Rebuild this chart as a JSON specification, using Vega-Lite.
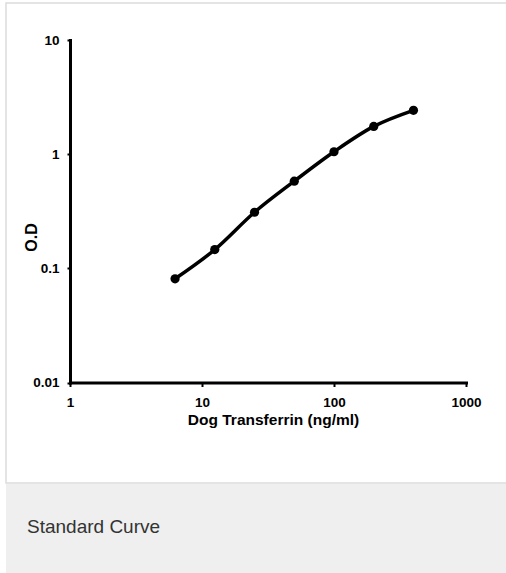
{
  "$schema": "https://vega.github.io/schema/vega-lite/v6.json",
  "background": "white",
  "padding": {"left": 5, "top": 2, "right": 0, "bottom": 1},
  "spacing": 0,
  "config": {"concat": {"spacing": 0}, "font": "Liberation Sans"},
  "vconcat": [
    {
      "width": 501,
      "height": 480,
      "view": {"stroke": "#dcdcdc", "strokeWidth": 1.5, "fill": "white"},
      "data": {
        "values": [
          {"conc": 6.25, "od": 0.081},
          {"conc": 12.5, "od": 0.146},
          {"conc": 25, "od": 0.31},
          {"conc": 50, "od": 0.58},
          {"conc": 100, "od": 1.05},
          {"conc": 200, "od": 1.75},
          {"conc": 400, "od": 2.42}
        ]
      },
      "encoding": {
        "x": {
          "field": "conc",
          "type": "quantitative",
          "scale": {"type": "log", "domain": [1, 1000], "range": [64, 460], "nice": false},
          "axis": {
            "title": "Dog Transferrin (ng/ml)",
            "values": [1, 10, 100, 1000],
            "format": "~g",
            "offset": -100.5,
            "grid": false,
            "domainColor": "black",
            "domainWidth": 3,
            "domainCap": "square",
            "tickColor": "black",
            "tickWidth": 2,
            "tickSize": 4,
            "labelPadding": 9,
            "labelFlush": false,
            "labelFont": "Liberation Sans",
            "labelFontWeight": "bold",
            "labelFontSize": 13.5,
            "labelColor": "black",
            "titleFont": "Liberation Sans",
            "titleFontWeight": "bold",
            "titleFontSize": 15.5,
            "titleColor": "black",
            "titlePadding": 3,
            "titleX": 267
          }
        },
        "y": {
          "field": "od",
          "type": "quantitative",
          "scale": {"type": "log", "domain": [0.01, 10], "range": [379.5, 37], "nice": false},
          "axis": {
            "title": "O.D",
            "values": [0.01, 0.1, 1, 10],
            "format": "~g",
            "offset": -64,
            "grid": false,
            "domainColor": "black",
            "domainWidth": 3,
            "domainCap": "square",
            "tickColor": "black",
            "tickWidth": 2,
            "tickSize": 3,
            "labelPadding": 8,
            "labelFlush": false,
            "labelFont": "Liberation Sans",
            "labelFontWeight": "bold",
            "labelFontSize": 13.5,
            "labelColor": "black",
            "titleFont": "Liberation Sans",
            "titleFontWeight": "bold",
            "titleFontSize": 16,
            "titleColor": "black",
            "titleBaseline": "alphabetic",
            "titleX": -34,
            "titleY": 234
          }
        }
      },
      "layer": [
        {"mark": {"type": "line", "color": "black", "strokeWidth": 3.5, "interpolate": "monotone"}},
        {"mark": {"type": "point", "filled": true, "color": "black", "size": 85, "opacity": 1}}
      ]
    },
    {
      "width": 501,
      "height": 90,
      "view": {"stroke": null, "fill": "#eeefee"},
      "data": {"values": [{"caption": "Standard Curve"}]},
      "mark": {"type": "rect", "color": "#eeefee"},
      "encoding": {},
      "title": {
        "text": "Standard Curve",
        "orient": "top",
        "anchor": "start",
        "frame": "group",
        "offset": 0,
        "dx": 21,
        "dy": 68,
        "baseline": "alphabetic",
        "font": "Liberation Sans",
        "fontSize": 19,
        "fontWeight": "normal",
        "color": "#333333"
      }
    }
  ]
}
